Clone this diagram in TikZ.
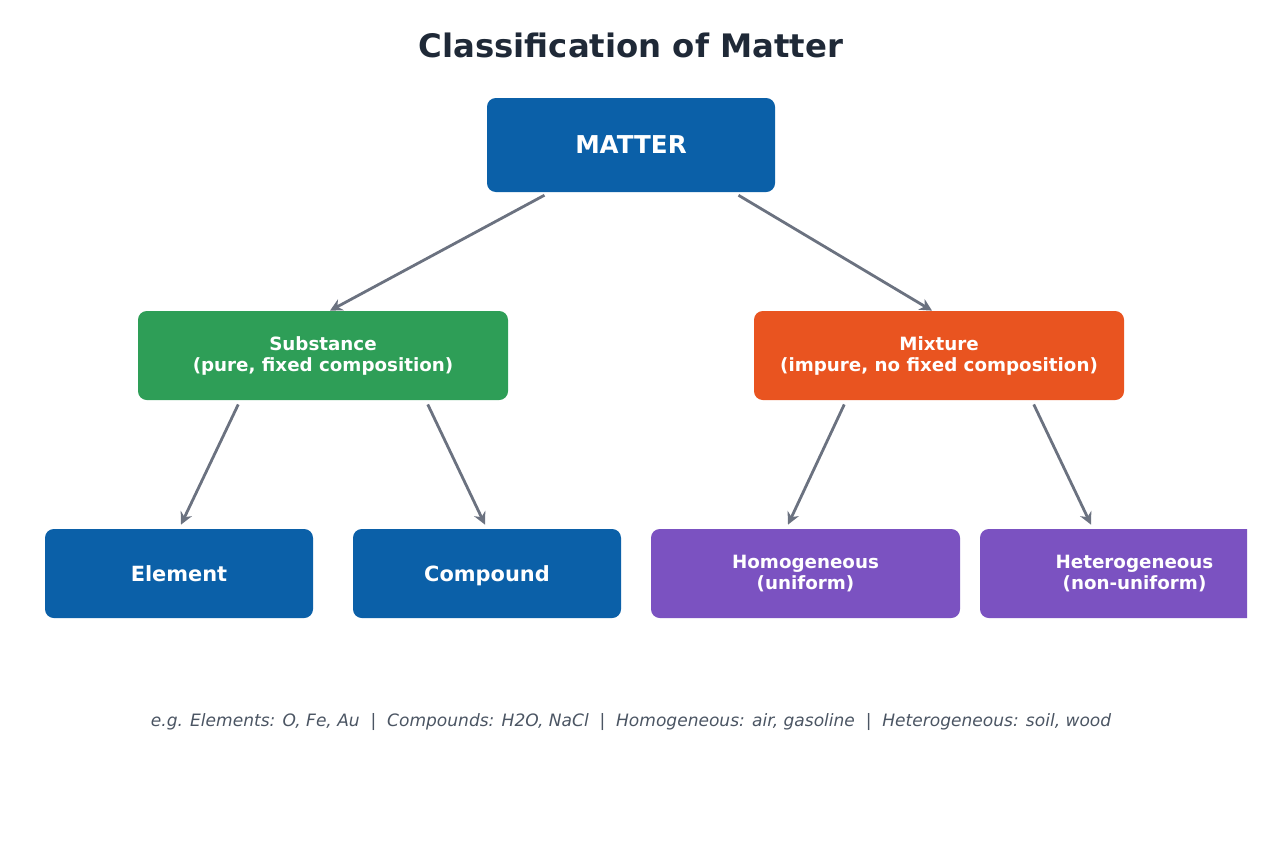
\documentclass[tikz,border=0pt]{standalone}
\usepackage{fontspec}
\setmainfont{DejaVu Sans}
\usetikzlibrary{arrows.meta}
\definecolor{mblue}{HTML}{0B60A8}
\definecolor{mgreen}{HTML}{2E9E57}
\definecolor{morange}{HTML}{E95420}
\definecolor{mpurple}{HTML}{7B52C1}
\definecolor{mgray}{HTML}{6B7280}
\definecolor{mtitle}{HTML}{1F2937}
\definecolor{mnote}{HTML}{4B5563}
\begin{document}
\begin{tikzpicture}
      \tikzset{box/.style = {rounded corners=5pt, text=white, font=\bfseries, align=center, inner sep=0pt},
        edge/.style = {-{Stealth[length=7pt,width=7pt]}, line width=1.6pt, draw=mgray, shorten <=1pt}}
      \useasboundingbox (0,0) rectangle (25.24,-17.22);
      \node[font=\bfseries\fontsize{18.4}{21}\selectfont, text=mtitle] (title) at (12.62,-0.9) {Classification of Matter};
      \node[box, fill=mblue, minimum width=5.76cm, minimum height=1.88cm, font=\bfseries\fontsize{14}{16}\selectfont] (matter) at (12.62,-2.9) {MATTER};
      \node[box, fill=mgreen, minimum width=7.4cm, minimum height=1.78cm, font=\bfseries\fontsize{10.4}{12}\selectfont] (substance) at (6.46,-7.11) {Substance\\(pure, fixed composition)};
      \node[box, fill=morange, minimum width=7.4cm, minimum height=1.78cm, font=\bfseries\fontsize{10.4}{12}\selectfont] (mixture) at (18.78,-7.11) {Mixture\\(impure, no fixed composition)};
      \node[box, fill=mblue, minimum width=5.36cm, minimum height=1.78cm, font=\bfseries\fontsize{11.9}{14}\selectfont] (element) at (3.58,-11.47) {Element};
      \node[box, fill=mblue, minimum width=5.36cm, minimum height=1.78cm, text depth=0pt, font=\bfseries\fontsize{11.9}{14}\selectfont] (compound) at (9.74,-11.47) {Compound};
      \node[box, fill=mpurple, minimum width=6.18cm, minimum height=1.78cm, font=\bfseries\fontsize{10.4}{12}\selectfont] (homo) at (16.11,-11.47) {Homogeneous\\(uniform)};
      % right box runs off the edge
      \begin{scope}
        \clip (19.5,-10) rectangle (24.94,-13);
        \node[box, fill=mpurple, minimum width=6.18cm, minimum height=1.78cm] (hetero) at (22.69,-11.47) {};
      \end{scope}
      \node[text=white, font=\bfseries\fontsize{10.4}{12}\selectfont, align=center] (heterotext) at (hetero.center) {Heterogeneous\\(non-uniform)};
      \draw[edge] ([xshift=-1.7cm, yshift=-0.04cm]matter.south) -- ([xshift=0.14cm]substance.north);
      \draw[edge] ([xshift=2.12cm, yshift=-0.04cm]matter.south) -- ([xshift=-0.14cm]mixture.north);
      \draw[edge] ([xshift=-1.68cm, yshift=-0.05cm]substance.south) -- ([xshift=0.04cm, yshift=0.08cm]element.north);
      \draw[edge] ([xshift=2.08cm, yshift=-0.05cm]substance.south) -- ([xshift=-0.04cm, yshift=0.08cm]compound.north);
      \draw[edge] ([xshift=-1.88cm, yshift=-0.05cm]mixture.south) -- ([xshift=-0.35cm, yshift=0.08cm]homo.north);
      \draw[edge] ([xshift=1.88cm, yshift=-0.05cm]mixture.south) -- ([xshift=-0.87cm, yshift=0.08cm]hetero.north);
      \node[font=\itshape\fontsize{9.7}{11}\selectfont, text=mnote] (note) at (12.62,-14.44) {e.g. Elements: O, Fe, Au~~|~~Compounds: H2O, NaCl~~|~~Homogeneous: air, gasoline~~|~~Heterogeneous: soil, wood};
    \end{tikzpicture}
\end{document}
